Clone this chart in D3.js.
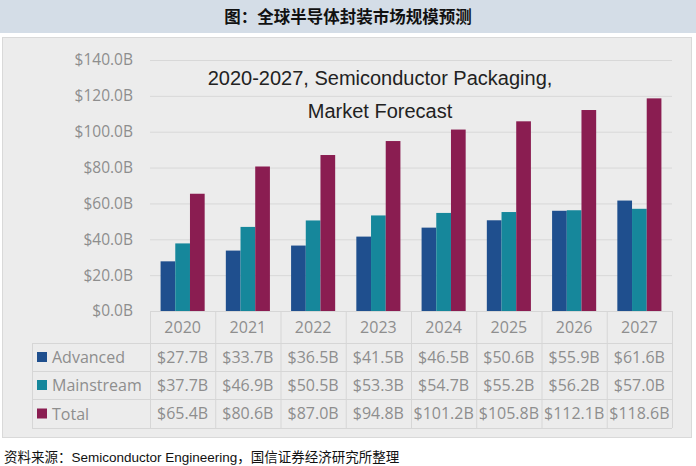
<html>
  <head>
    <meta charset="utf-8" />
    <script src="https://cdnjs.cloudflare.com/ajax/libs/d3/7.6.1/d3.min.js"></script>
    <style>
      body { margin: 0; background: #fff; }
      svg { display: block; }
    </style>
  </head>
  <body>
    <svg width="696" height="466"></svg>
  </body>

  <script>
    const years = ["2020", "2021", "2022", "2023", "2024", "2025", "2026", "2027"];
    const series = ["Advanced", "Mainstream", "Total"];
    const advanced = [27.7, 33.7, 36.5, 41.5, 46.5, 50.6, 55.9, 61.6];
    const mainstream = [37.7, 46.9, 50.5, 53.3, 54.7, 55.2, 56.2, 57.0];
    const total = [65.4, 80.6, 87.0, 94.8, 101.2, 105.8, 112.1, 118.6];
    const yTicks = [0, 20, 40, 60, 80, 100, 120, 140];
    const colors = ["#1f4f8e", "#16879b", "#8a1d51"];

    const values = [advanced, mainstream, total];
    const svg = d3.select("svg");
    const fmt = (v) => "$" + v.toFixed(1) + "B";
    const gray = "#8e8e8e";
    const uiFont = "'Open Sans', 'Noto Sans', sans-serif";

    // header band
    svg.append("rect").attr("x", 0).attr("y", 0).attr("width", 696).attr("height", 33).attr("fill", "#d4dde7");
    svg.append("text")
      .attr("x", 348).attr("y", 23)
      .attr("text-anchor", "middle")
      .style("font-family", "'Noto Sans CJK SC', sans-serif")
      .style("font-weight", "bold")
      .style("font-size", "16.5px")
      .attr("fill", "#111")
      .text("图：全球半导体封装市场规模预测");

    // chart panel
    svg.append("rect").attr("x", 2.5).attr("y", 37.5).attr("width", 689).attr("height", 400)
      .attr("fill", "#ececec").attr("stroke", "#d9d9d9");

    const plotL = 150, plotR = 672, plotT = 60, plotB = 311;
    const y = d3.scaleLinear().domain([0, 140]).range([plotB, plotT]);
    const x0 = d3.scaleBand().domain(years).range([plotL, plotR]).padding(0);
    const x1 = d3.scaleBand().domain(series).range([0, x0.bandwidth()]).paddingInner(0).paddingOuter(0.72);

    // gridlines + y labels
    const yAxis = d3.axisLeft(y).tickValues(yTicks).tickSize(-(plotR - plotL)).tickFormat(fmt).tickPadding(17);
    const gy = svg.append("g").attr("transform", `translate(${plotL},0)`).call(yAxis);
    gy.select(".domain").remove();
    gy.selectAll("line").attr("stroke", "#d8d8d8");
    gy.selectAll("text").attr("fill", gray).style("font-family", uiFont).style("font-size", "15.5px");

    // bars
    const groups = svg.append("g").selectAll("g").data(years).join("g")
      .attr("transform", (d) => `translate(${x0(d)},0)`);
    groups.selectAll("rect")
      .data((d, i) => series.map((s, k) => ({ s, k, v: values[k][i] })))
      .join("rect")
      .attr("x", (d) => x1(d.s))
      .attr("y", (d) => y(d.v))
      .attr("width", x1.bandwidth())
      .attr("height", (d) => plotB - y(d.v))
      .attr("fill", (d) => colors[d.k]);

    // chart title
    const title = ["2020-2027, Semiconductor Packaging,", "Market Forecast"];
    svg.selectAll("text.ctitle").data(title).join("text")
      .attr("class", "ctitle")
      .attr("x", 380).attr("y", (d, i) => 85 + i * 33)
      .attr("text-anchor", "middle")
      .style("font-family", "'Liberation Sans', Arial, sans-serif")
      .style("font-size", "20px")
      .attr("fill", "#222")
      .text((d) => d);

    // data table
    const rowTops = [311, 343, 371, 399, 428];
    const labLeft = 32;
    const line = "#d6d6d6";
    const tg = svg.append("g");
    // horizontal lines
    rowTops.forEach((ry, i) => {
      tg.append("line")
        .attr("x1", i === 0 ? plotL : labLeft).attr("x2", plotR)
        .attr("y1", ry + 0.5).attr("y2", ry + 0.5).attr("stroke", line);
    });
    // vertical lines
    years.concat(["end"]).forEach((yr, i) => {
      const xx = i < years.length ? x0(yr) : plotR;
      tg.append("line").attr("x1", xx + 0.5).attr("x2", xx + 0.5)
        .attr("y1", rowTops[0]).attr("y2", rowTops[4]).attr("stroke", line);
    });
    tg.append("line").attr("x1", labLeft + 0.5).attr("x2", labLeft + 0.5)
      .attr("y1", rowTops[1]).attr("y2", rowTops[4]).attr("stroke", line);

    // year header
    tg.selectAll("text.yr").data(years).join("text")
      .attr("class", "yr")
      .attr("x", (d) => x0(d) + x0.bandwidth() / 2)
      .attr("y", 333)
      .attr("text-anchor", "middle")
      .style("font-family", uiFont).style("font-size", "16px")
      .attr("fill", gray)
      .text((d) => d);

    // series rows
    series.forEach((s, k) => {
      const cy = (rowTops[k + 1] + rowTops[k + 2]) / 2;
      tg.append("rect").attr("x", 37).attr("y", cy - 5).attr("width", 10).attr("height", 10).attr("fill", colors[k]);
      tg.append("text").attr("x", 52).attr("y", cy + 6)
        .style("font-family", uiFont).style("font-size", "16px")
        .attr("fill", gray).text(s);
      tg.selectAll("text.v" + k).data(values[k]).join("text")
        .attr("class", "v" + k)
        .attr("x", (d, i) => x0(years[i]) + x0.bandwidth() / 2)
        .attr("y", cy + 5.5)
        .attr("text-anchor", "middle")
        .style("font-family", uiFont).style("font-size", "16px")
        .attr("fill", gray)
        .text(fmt);
    });

    // source note
    svg.append("text")
      .attr("x", 4).attr("y", 462)
      .style("font-family", "'Liberation Sans', 'Noto Sans CJK SC', sans-serif")
      .style("font-size", "13.5px")
      .attr("fill", "#111")
      .text("资料来源：Semiconductor Engineering，国信证券经济研究所整理");
  </script>
</html>
